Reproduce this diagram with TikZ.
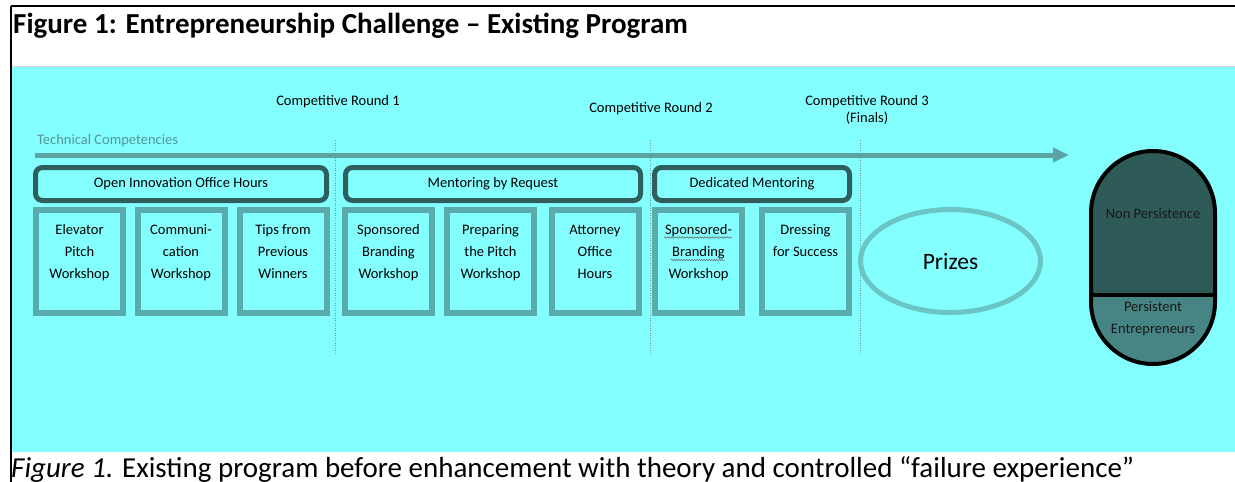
\documentclass[tikz,border=0pt]{standalone}
\usepackage{fontspec}
\setmainfont{Carlito}
\usetikzlibrary{arrows.meta,shapes.geometric,decorations.pathmorphing}
\definecolor{cyanbg}{RGB}{132,255,255}
\definecolor{arrowc}{RGB}{92,164,164}
\definecolor{grpc}{RGB}{47,94,94}
\definecolor{subc}{RGB}{90,171,171}
\definecolor{prizec}{RGB}{108,197,197}
\definecolor{captop}{RGB}{46,90,88}
\definecolor{capbot}{RGB}{71,133,132}
\definecolor{techc}{RGB}{84,150,150}
\definecolor{dotc}{RGB}{120,150,150}
\tikzset{
  grp/.style={draw=grpc, line width=5pt, rounded corners=7pt, fill=cyanbg, inner sep=0pt,
    minimum height=33pt, font=\fontsize{14.5}{17}\selectfont},
  subbox/.style={draw=subc, line width=6pt, fill=cyanbg, inner sep=0pt,
    minimum width=87pt, minimum height=103pt},
  subtxt/.style={anchor=north, align=center, inner sep=0pt, yshift=-17.5pt,
    font=\fontsize{14.5}{22}\selectfont},
  roundlbl/.style={inner sep=0pt, align=center, font=\fontsize{14.5}{17}\selectfont},
  vdots/.style={draw=dotc, dash pattern=on 1pt off 1.5pt, line width=0.8pt},
  captxt/.style={inner sep=0pt, align=center, text=black!90, font=\fontsize{14.5}{22}\selectfont},
}
\begin{document}
\begin{tikzpicture}[x=1pt,y=-1pt]
\useasboundingbox (0,0) rectangle (1235,482);
\fill[white] (0,0) rectangle (1235,482);
% cyan panel
\fill[cyanbg] (11,66) rectangle (1235,452);
\draw[gray!35, line width=1pt] (11,66) -- (1235,66);
% black frame lines
\draw[black, line width=1.8pt] (11,6) -- (1235,6);
\draw[black, line width=1.8pt] (11,6) -- (11,482);
% title
\node[anchor=base west, inner sep=0pt, font=\fontsize{29}{33}\bfseries\selectfont] (title) at (13,33) {Figure 1: Entrepreneurship Challenge -- Existing Program};
% caption
\node[anchor=base west, inner sep=0pt, font=\fontsize{29}{33}\selectfont] (caption) at (11,477) {\textit{Figure 1.} Existing program before enhancement with theory and controlled “failure experience”};
% round labels
\node[roundlbl] (r1) at (338,102) {Competitive Round 1};
\node[roundlbl] (r2) at (651,109) {Competitive Round 2};
\node[roundlbl] (r3) at (867,109.5) {Competitive Round 3\\(Finals)};
\node[anchor=west, inner sep=0pt, text=techc, font=\fontsize{14.5}{17}\selectfont] (tech) at (37,141) {Technical Competencies};
% dotted dividers
\draw[vdots] (335,140) -- (335,355);
\draw[vdots] (650,140) -- (650,355);
\draw[vdots] (860,140) -- (860,355);
% arrow
\coordinate (arS) at (35,155);
\coordinate (arE) at (1069,155);
\draw[arrowc, line width=5pt, -{Triangle[length=16pt,width=14pt]}] (arS) -- (arE);
% group headers
\node[grp, minimum width=291pt] (g1) at (181,184) {Open Innovation Office Hours};
\node[grp, minimum width=295pt] (g2) at (493,184) {Mentoring by Request};
\node[grp, minimum width=195pt] (g3) at (752,184) {Dedicated Mentoring};
% sub boxes
\node[subbox] (b1) at (79.5,261.5) {};
\node[subbox] (b2) at (181,261.5) {};
\node[subbox] (b3) at (283,261.5) {};
\node[subbox] (b4) at (388.5,261.5) {};
\node[subbox] (b5) at (490.5,261.5) {};
\node[subbox] (b6) at (595,261.5) {};
\node[subbox] (b7) at (698.5,261.5) {};
\node[subbox] (b8) at (805.5,261.5) {};
\node[subtxt] (t1) at (b1.north) {Elevator\\Pitch\\Workshop};
\node[subtxt] (t2) at (b2.north) {Communi-\\cation\\Workshop};
\node[subtxt] (t3) at (b3.north) {Tips from\\Previous\\Winners};
\node[subtxt] (t4) at (b4.north) {Sponsored\\Branding\\Workshop};
\node[subtxt] (t5) at (b5.north) {Preparing\\the Pitch\\Workshop};
\node[subtxt] (t6) at (b6.north) {Attorney\\Office\\Hours};
\node[subtxt] (t7) at (b7.north) {Sponsored-\\Branding\\Workshop};
\node[subtxt] (t8) at (b8.north) {Dressing\\for Success};
% spell-check squiggles
\draw[gray!80!black, line width=0.5pt, decorate, decoration={snake, segment length=2.5pt, amplitude=0.7pt}] (664,237.5) -- (732,237.5);
\draw[gray!80!black, line width=0.5pt, decorate, decoration={snake, segment length=2.5pt, amplitude=0.7pt}] (671,260) -- (725,260);
% prizes
\node[ellipse, draw=prizec, line width=5pt, fill=cyanbg, minimum width=180pt, minimum height=103pt, inner sep=0pt, font=\fontsize{23.5}{27}\selectfont] (prz) at (950.5,261) {Prizes};
% capsule
\begin{scope}
  \clip[rounded corners=62pt] (1091,151) rectangle (1215,364);
  \fill[captop] (1091,151) rectangle (1215,295);
  \fill[capbot] (1091,295) rectangle (1215,364);
\end{scope}
\draw[black, line width=4pt] (1091,295) -- (1215,295);
\draw[black, line width=4pt, rounded corners=62pt] (1091,151) rectangle (1215,364);
\node[captxt] (np) at (1153,214) {Non Persistence};
\node[captxt] (pe) at (1153,319) {Persistent\\Entrepreneurs};
\end{tikzpicture}
\end{document}
